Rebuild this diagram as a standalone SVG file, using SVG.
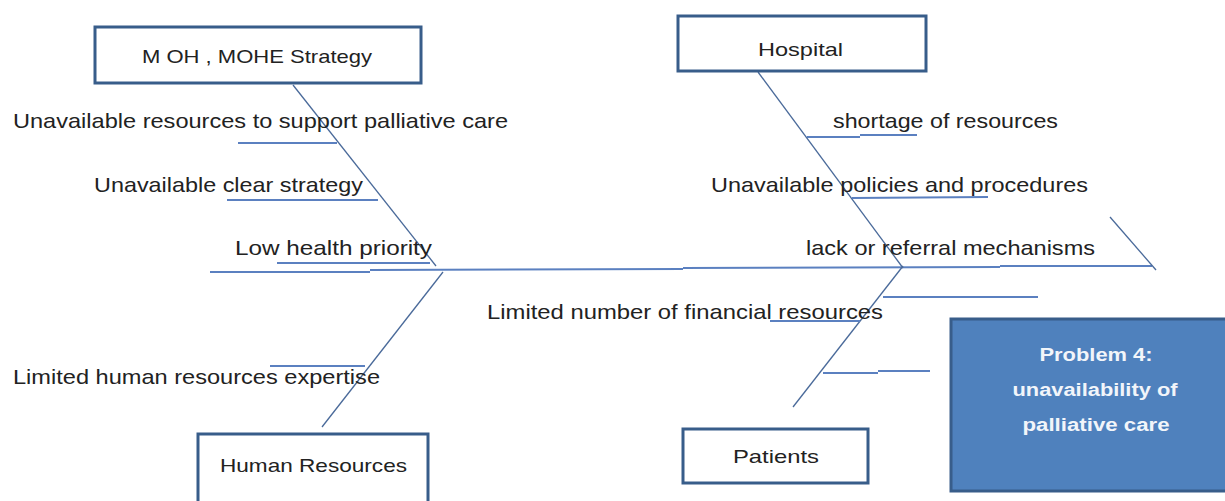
<svg xmlns="http://www.w3.org/2000/svg" width="1225" height="501" viewBox="0 0 1225 501">
<style>
.lbl{font-family:"Liberation Sans",Arial,sans-serif;font-size:21px;fill:#222;}
.box{fill:#fff;stroke:#385d8a;stroke-width:3;}
.btxt{font-family:"Liberation Sans",Arial,sans-serif;font-size:19px;fill:#222;}
.ptxt{font-family:"Liberation Sans",Arial,sans-serif;font-size:18px;font-weight:bold;fill:#f2f5fa;text-anchor:middle;}
.diag{stroke:#4a6a9a;stroke-width:1.3;fill:none;}
.hl{stroke:#5b80c0;stroke-width:2;fill:none;}
</style>
<rect width="1225" height="501" fill="#fff"/>
<g id="connectors">
<line class="hl" x1="210" y1="272" x2="370" y2="272"/>
<line class="hl" x1="370" y1="270" x2="683" y2="269"/>
<line class="hl" x1="683" y1="268" x2="1000" y2="267"/>
<line class="hl" x1="1000" y1="266" x2="1152" y2="266"/>
<line class="diag" x1="1110" y1="217" x2="1156" y2="270"/>
<line class="diag" x1="293" y1="85" x2="436" y2="266"/>
<line class="diag" x1="443" y1="272" x2="322" y2="427"/>
<line class="diag" x1="758" y1="72" x2="903" y2="268"/>
<line class="diag" x1="903" y1="266" x2="793" y2="407"/>
<line class="hl" x1="238" y1="143" x2="337" y2="143"/>
<line class="hl" x1="227" y1="200" x2="378" y2="200"/>
<line class="hl" x1="277" y1="263" x2="430" y2="263"/>
<line class="hl" x1="270" y1="366" x2="365" y2="366"/>
<line class="hl" x1="807" y1="137" x2="860" y2="137"/>
<line class="hl" x1="860" y1="135" x2="917" y2="135"/>
<line class="hl" x1="852" y1="198" x2="988" y2="197"/>
<line class="hl" x1="883" y1="297" x2="1038" y2="297"/>
<line class="hl" x1="770" y1="321" x2="860" y2="321"/>
<line class="hl" x1="823" y1="373" x2="878" y2="373"/>
<line class="hl" x1="878" y1="371" x2="930" y2="371"/>
</g>
<g id="labels">
<text class="lbl" x="13" y="128" textLength="495" lengthAdjust="spacingAndGlyphs">Unavailable resources to support palliative care</text>
<text class="lbl" x="94" y="192" textLength="269" lengthAdjust="spacingAndGlyphs">Unavailable clear strategy</text>
<text class="lbl" x="235" y="255" textLength="197" lengthAdjust="spacingAndGlyphs">Low health priority</text>
<text class="lbl" x="13" y="384" textLength="367" lengthAdjust="spacingAndGlyphs">Limited human resources expertise</text>
<text class="lbl" x="833" y="128" textLength="225" lengthAdjust="spacingAndGlyphs">shortage of resources</text>
<text class="lbl" x="711" y="192" textLength="377" lengthAdjust="spacingAndGlyphs">Unavailable policies and procedures</text>
<text class="lbl" x="806" y="255" textLength="289" lengthAdjust="spacingAndGlyphs">lack or referral mechanisms</text>
<text class="lbl" x="487" y="319" textLength="396" lengthAdjust="spacingAndGlyphs">Limited number of financial resources</text>
</g>
<g id="moh">
<rect class="box" x="95" y="27" width="326" height="56"/>
<text class="btxt" x="142" y="63" textLength="230" lengthAdjust="spacingAndGlyphs">M OH , MOHE Strategy</text>
</g>
<g id="hospital">
<rect class="box" x="678" y="16" width="248" height="55"/>
<text class="btxt" x="758" y="56" textLength="85" lengthAdjust="spacingAndGlyphs">Hospital</text>
</g>
<g id="human-resources">
<rect class="box" x="198" y="434" width="230" height="80"/>
<text class="btxt" x="220" y="472" textLength="187" lengthAdjust="spacingAndGlyphs">Human Resources</text>
</g>
<g id="patients">
<rect class="box" x="683" y="429" width="185" height="54"/>
<text class="btxt" x="733" y="463" textLength="86" lengthAdjust="spacingAndGlyphs">Patients</text>
</g>
<g id="problem">
<rect x="951" y="319" width="290" height="172" fill="#4f81bd" stroke="#385d8a" stroke-width="3"/>
<text class="ptxt" x="1096" y="361" textLength="113" lengthAdjust="spacingAndGlyphs">Problem 4:</text>
<text class="ptxt" x="1095" y="396" textLength="165" lengthAdjust="spacingAndGlyphs">unavailability of</text>
<text class="ptxt" x="1096" y="431" textLength="147" lengthAdjust="spacingAndGlyphs">palliative care</text>
</g>
</svg>
